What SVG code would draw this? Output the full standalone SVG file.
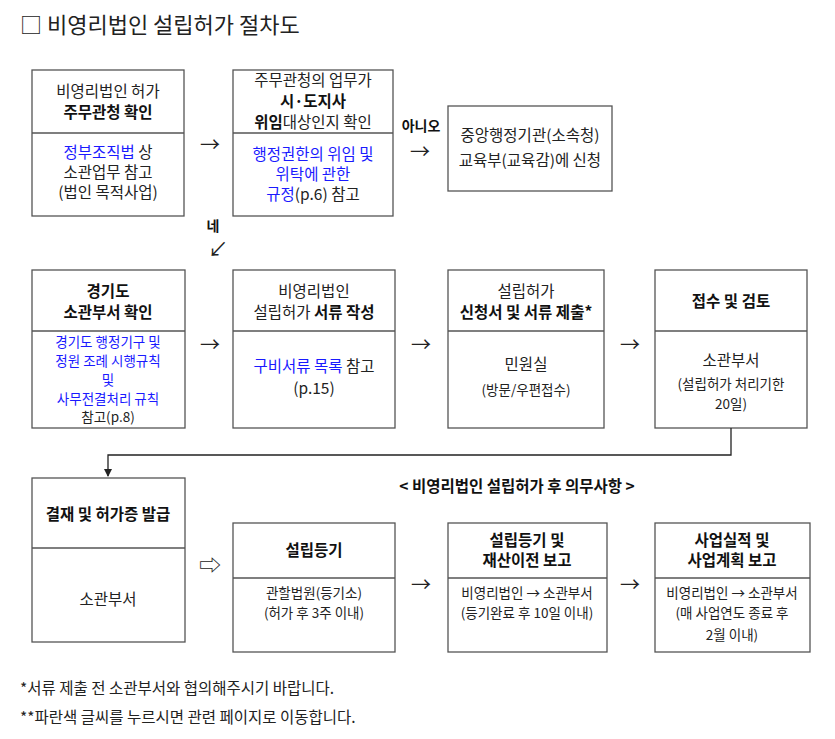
<svg xmlns="http://www.w3.org/2000/svg" width="835" height="739" viewBox="0 0 835 739">
<style>
text{font-family:"Noto Sans CJK KR","Noto Sans",sans-serif;font-size:15.5px;fill:#222;text-anchor:middle}
.b{font-weight:bold;fill:#111}
.bl{fill:#1a1aff}
.s{font-size:13.5px}
.t{font-size:13.5px}
.l{text-anchor:start}
.ar{font-size:20px}
.box{fill:#fff;stroke:#555;stroke-width:1.3}
.ln{stroke:#555;stroke-width:1.3}
.c{stroke:#222;stroke-width:1.3;fill:none}
</style>
<defs><marker id="ah" markerWidth="8" markerHeight="8" refX="7" refY="4" orient="auto" markerUnits="userSpaceOnUse"><path d="M0,0 L8,4 L0,8 z" fill="#222"/></marker></defs>
<text x="20" y="33" class="l" style="font-size:22px">□ 비영리법인 설립허가 절차도</text>

<g id="n1"><rect class="box" x="32" y="70" width="152" height="146"/><line class="ln" x1="32" y1="133" x2="184" y2="133"/>
<text x="108" y="97">비영리법인 허가</text><text x="108" y="118" class="b">주무관청 확인</text>
<text x="108" y="158"><tspan class="bl">정부조직법</tspan> 상</text><text x="108" y="178">소관업무 참고</text><text x="108" y="198">(법인 목적사업)</text></g>
<g id="n2"><rect class="box" x="233" y="70" width="160" height="146"/><line class="ln" x1="233" y1="133" x2="393" y2="133"/>
<text x="313" y="86">주무관청의 업무가</text><text x="313" y="107" class="b">시·도지사</text><text x="313" y="128"><tspan class="b">위임</tspan>대상인지 확인</text>
<text x="313" y="160" class="bl">행정권한의 위임 및</text><text x="313" y="180" class="bl">위탁에 관한</text><text x="313" y="200"><tspan class="bl">규정</tspan>(p.6) 참고</text></g>
<g id="n3"><rect class="box" x="448" y="106" width="164" height="85"/>
<text x="530" y="141">중앙행정기관(소속청)</text><text x="530" y="166">교육부(교육감)에 신청</text></g>

<g id="n4"><rect class="box" x="32" y="270" width="153" height="158"/><line class="ln" x1="32" y1="331" x2="185" y2="331"/>
<text x="108" y="297" class="b">경기도</text><text x="108" y="318" class="b">소관부서 확인</text>
<text x="108" y="347" class="bl t">경기도 행정기구 및</text><text x="108" y="366" class="bl t">정원 조례 시행규칙</text><text x="108" y="385" class="bl t">및</text><text x="108" y="404" class="bl t">사무전결처리 규칙</text><text x="108" y="422" class="t">참고(p.8)</text></g>
<g id="n5"><rect class="box" x="233" y="270" width="162" height="158"/><line class="ln" x1="233" y1="331" x2="395" y2="331"/>
<text x="314" y="297">비영리법인</text><text x="314" y="318">설립허가 <tspan class="b">서류 작성</tspan></text>
<text x="314" y="372"><tspan class="bl">구비서류 목록</tspan> 참고</text><text x="314" y="394">(p.15)</text></g>
<g id="n6"><rect class="box" x="448" y="270" width="156" height="158"/><line class="ln" x1="448" y1="331" x2="604" y2="331"/>
<text x="526" y="297">설립허가</text><text x="526" y="318" class="b">신청서 및 서류 제출*</text>
<text x="526" y="370">민원실</text><text x="526" y="395" class="s">(방문/우편접수)</text></g>
<g id="n7"><rect class="box" x="655" y="270" width="152" height="158"/><line class="ln" x1="655" y1="331" x2="807" y2="331"/>
<text x="731" y="307" class="b">접수 및 검토</text>
<text x="731" y="366">소관부서</text><text x="731" y="389" class="s">(설립허가 처리기한</text><text x="731" y="409" class="s">20일)</text></g>

<text x="517" y="492" class="b">&lt; 비영리법인 설립허가 후 의무사항 &gt;</text>
<g id="n8"><rect class="box" x="32" y="478" width="153" height="164"/><line class="ln" x1="32" y1="548" x2="185" y2="548"/>
<text x="108" y="520" class="b">결재 및 허가증 발급</text><text x="108" y="605">소관부서</text></g>
<g id="n9"><rect class="box" x="233" y="523" width="162" height="129"/><line class="ln" x1="233" y1="578" x2="395" y2="578"/>
<text x="314" y="556" class="b">설립등기</text><text x="314" y="598" class="s">관할법원(등기소)</text><text x="314" y="618" class="s">(허가 후 3주 이내)</text></g>
<g id="n10"><rect class="box" x="448" y="523" width="159" height="129"/><line class="ln" x1="448" y1="578" x2="607" y2="578"/>
<text x="527" y="546" class="b">설립등기 및</text><text x="527" y="566" class="b">재산이전 보고</text><text x="527" y="598" class="s">비영리법인 → 소관부서</text><text x="527" y="618" class="s">(등기완료 후 10일 이내)</text></g>
<g id="n11"><rect class="box" x="655" y="523" width="155" height="129"/><line class="ln" x1="655" y1="578" x2="810" y2="578"/>
<text x="732" y="546" class="b">사업실적 및</text><text x="732" y="566" class="b">사업계획 보고</text><text x="732" y="598" class="s">비영리법인 → 소관부서</text><text x="732" y="618" class="s">(매 사업연도 종료 후</text><text x="732" y="640" class="s">2월 이내)</text></g>

<g id="connectors">
<text x="210" y="152" class="ar">→</text><text x="420" y="159" class="ar">→</text><text x="421" y="131" class="b" style="font-size:14px">아니오</text>
<text x="213" y="231" class="b" style="font-size:14px">네</text><text x="218" y="257" class="ar">↙</text>
<text x="210" y="352" class="ar">→</text><text x="421" y="352" class="ar">→</text><text x="630" y="352" class="ar">→</text>
<polyline class="c" points="731,428 731,455 108,455 108,476" marker-end="url(#ah)"/>
<text x="210" y="573" style="font-size:22px">⇨</text>
<text x="421" y="592" class="ar">→</text><text x="630" y="592" class="ar">→</text>
</g>
<text x="20" y="694" class="l">*서류 제출 전 소관부서와 협의해주시기 바랍니다.</text>
<text x="20" y="723" class="l">**파란색 글씨를 누르시면 관련 페이지로 이동합니다.</text>
</svg>
